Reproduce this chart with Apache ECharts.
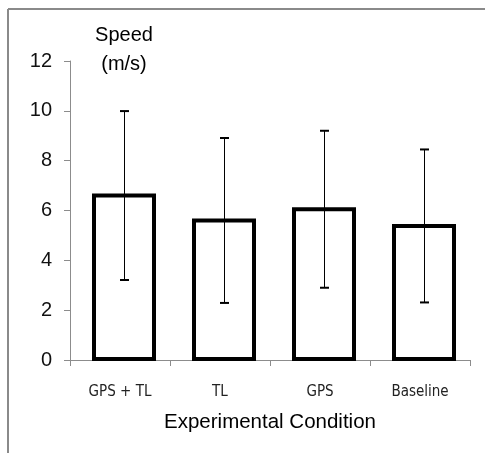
<!DOCTYPE html>
<html>
<head>
<meta charset="utf-8">
<script src="https://cdn.jsdelivr.net/npm/echarts@6/dist/echarts.min.js"></script>
<style>
html, body { margin: 0; padding: 0; background: #fff; }
#speedChart { width: 485px; height: 453px; }
</style>
</head>
<body>
<div id="speedChart"></div>
<script type="text/javascript">
// mean speed per condition, with standard deviation
var conditions = ['GPS + TL', 'TL', 'GPS', 'Baseline']
var meanSpeed = [6.6, 5.6, 6.05, 5.38]
var sdSpeed = [3.39, 3.31, 3.15, 3.07]
var yTicks = [0, 2, 4, 6, 8, 10, 12]

var barData = []
for (var i = 0; i < conditions.length; i++) {
    barData.push([i, meanSpeed[i], meanSpeed[i] - sdSpeed[i], meanSpeed[i] + sdSpeed[i]])
}

var axisGray = '#8c8c8c'
var labelFont = '"Liberation Sans", Arial, sans-serif'

var option = {
    animation: false,
    backgroundColor: '#fff',
    title: {
        text: 'Speed\n(m/s)',
        left: 119,
        top: 16,
        textAlign: 'center',
        textStyle: {
            fontFamily: labelFont,
            fontSize: 20,
            fontWeight: 'normal',
            color: '#000',
            lineHeight: 29
        }
    },
    grid: {
        left: 70,
        right: 15,
        top: 61,
        bottom: 93,
        containLabel: false
    },
    xAxis: {
        type: 'category',
        data: conditions,
        name: 'Experimental Condition',
        nameLocation: 'middle',
        nameGap: 52,
        nameTextStyle: {
            fontFamily: labelFont,
            fontSize: 20.5,
            color: '#000'
        },
        axisLine: { lineStyle: { color: axisGray, width: 1 } },
        axisTick: { show: true, length: 6, lineStyle: { color: axisGray } },
        axisLabel: {
            margin: 25,
            fontFamily: '"Liberation Sans Narrow", "Arial Narrow", "DejaVu Sans Condensed", sans-serif',
            fontSize: 15,
            color: '#222'
        }
    },
    yAxis: {
        type: 'value',
        min: yTicks[0],
        max: yTicks[yTicks.length - 1],
        interval: 2,
        splitLine: { show: false },
        axisLine: { show: true, lineStyle: { color: axisGray, width: 1 } },
        axisTick: { show: true, length: 6, lineStyle: { color: axisGray } },
        axisLabel: {
            margin: 18,
            fontFamily: labelFont,
            fontSize: 20,
            color: '#111'
        }
    },
    series: [
        {
            // bars plus error bars, sitting a little right of the category centre
            type: 'custom',
            data: barData,
            z: 3,
            renderItem: function (params, api) {
                var base = api.coord([api.value(0), 0])
                var top = api.coord([api.value(0), api.value(1)])
                var lo = api.coord([api.value(0), api.value(2)])
                var hi = api.coord([api.value(0), api.value(3)])
                var x = Math.round(base[0]) + 4
                var half = 30
                var cap = 4
                return {
                    type: 'group',
                    children: [
                        {
                            type: 'rect',
                            shape: { x: x - half, y: top[1], width: half * 2, height: base[1] - top[1] - 1 },
                            style: { fill: '#fff', stroke: '#000', lineWidth: 4 }
                        },
                        {
                            type: 'line',
                            shape: { x1: x + 0.5, y1: hi[1], x2: x + 0.5, y2: lo[1] },
                            style: { stroke: '#000', lineWidth: 1 }
                        },
                        {
                            type: 'line',
                            shape: { x1: x - cap, y1: hi[1], x2: x + cap + 1, y2: hi[1] },
                            style: { stroke: '#000', lineWidth: 2 }
                        },
                        {
                            type: 'line',
                            shape: { x1: x - cap, y1: lo[1], x2: x + cap + 1, y2: lo[1] },
                            style: { stroke: '#000', lineWidth: 2 }
                        }
                    ]
                }
            }
        }
    ],
    graphic: [
        {
            type: 'line',
            shape: { x1: 8, y1: 9, x2: 485, y2: 9 },
            style: { stroke: '#8a8a8a', lineWidth: 2 }
        },
        {
            type: 'line',
            shape: { x1: 8, y1: 9, x2: 8, y2: 453 },
            style: { stroke: '#8a8a8a', lineWidth: 2 }
        }
    ]
}

var myChart = echarts.init(document.getElementById('speedChart'))
myChart.setOption(option)
</script>
</body>
</html>
